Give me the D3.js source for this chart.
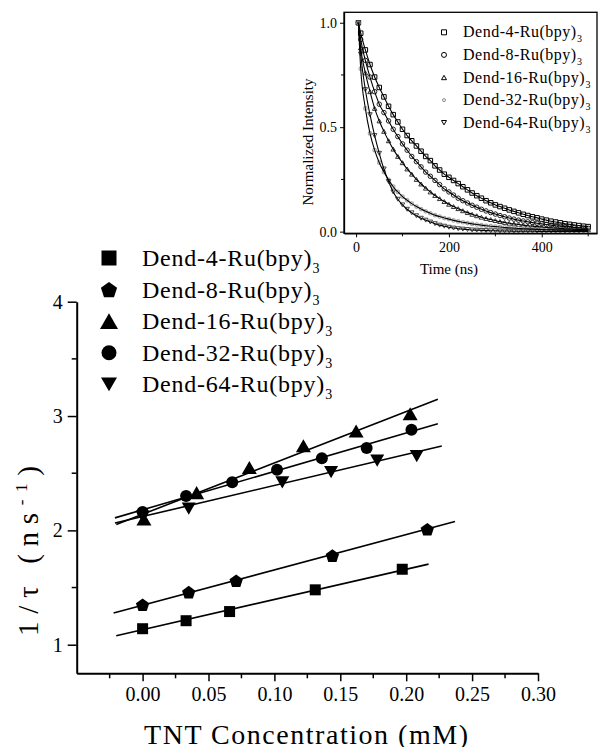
<!DOCTYPE html>
<html>
<head>
<meta charset="utf-8">
<script src="https://cdn.jsdelivr.net/npm/d3@7"></script>
<style>
  body { margin: 0; background: #fff; }
  svg { display: block; }
</style>
</head>
<body>
<svg id="chart" width="599" height="747" style="font-family: 'Liberation Serif', serif;"></svg>
<script>
// ---- main plot data: 1/tau vs TNT concentration ----
var seriesNames = ["Dend-4-Ru(bpy)", "Dend-8-Ru(bpy)", "Dend-16-Ru(bpy)", "Dend-32-Ru(bpy)", "Dend-64-Ru(bpy)"];
var seriesShapes = ["square", "pentagon", "triangle", "circle", "triangleDown"];

var tnt4  = [0.000, 0.033, 0.066, 0.131, 0.197];
var inv4  = [1.14, 1.21, 1.29, 1.48, 1.66];
var tnt8  = [0.000, 0.035, 0.071, 0.144, 0.216];
var inv8  = [1.35, 1.46, 1.56, 1.78, 2.01];
var tnt16 = [0.001, 0.041, 0.081, 0.122, 0.162, 0.203];
var inv16 = [2.10, 2.33, 2.55, 2.74, 2.87, 3.02];
var tnt32 = [0.000, 0.033, 0.068, 0.102, 0.136, 0.170, 0.204];
var inv32 = [2.16, 2.30, 2.42, 2.53, 2.63, 2.72, 2.88];
var tnt64 = [0.000, 0.035, 0.106, 0.143, 0.178, 0.208];
var inv64 = [2.12, 2.19, 2.42, 2.51, 2.61, 2.65];

// linear fits: intercept, slope, x-range of the drawn line
var fitIntercept = [1.132, 1.345, 2.141, 2.180, 2.121];
var fitSlope     = [2.64, 3.09, 4.49, 3.36, 2.72];
var fitFrom      = [-0.020, -0.022, -0.020, -0.021, -0.021];
var fitTo        = [0.217, 0.237, 0.224, 0.224, 0.227];

var xTicks = [0.00, 0.05, 0.10, 0.15, 0.20, 0.25, 0.30];
var xMinor = [-0.025, 0.025, 0.075, 0.125, 0.175, 0.225, 0.275];
var yTicks = [1, 2, 3, 4];
var yMinor = [1.5, 2.5, 3.5];

// ---- inset data: normalized intensity decays ----
var decayTime = [5, 10, 20, 30, 40, 50, 60, 70, 80, 90, 100, 110, 120, 130, 140, 150, 160, 170, 180, 190, 200,
  210, 220, 230, 240, 250, 260, 270, 280, 290, 300, 310, 320, 330, 340, 350, 360, 370, 380, 390, 400,
  410, 420, 430, 440, 450, 460, 470, 480, 490, 500];
var decay4 = [1.00, 0.95, 0.87, 0.80, 0.74, 0.69, 0.645, 0.60, 0.56, 0.525, 0.49, 0.46, 0.435, 0.41, 0.385, 0.36, 0.34, 0.315, 0.295, 0.275, 0.26,
  0.245, 0.23, 0.215, 0.20, 0.185, 0.172, 0.16, 0.148, 0.138, 0.128, 0.12, 0.112, 0.104, 0.097, 0.09, 0.083, 0.077, 0.071, 0.066, 0.06,
  0.055, 0.05, 0.046, 0.042, 0.038, 0.035, 0.032, 0.029, 0.026, 0.024];
var decay8 = [1.00, 0.92, 0.82, 0.74, 0.67, 0.61, 0.57, 0.53, 0.49, 0.455, 0.42, 0.39, 0.36, 0.335, 0.31, 0.285, 0.265, 0.245, 0.225, 0.205, 0.19,
  0.175, 0.16, 0.148, 0.137, 0.126, 0.117, 0.107, 0.099, 0.091, 0.084, 0.077, 0.071, 0.065, 0.06, 0.055, 0.051, 0.047, 0.043, 0.04, 0.037,
  0.034, 0.031, 0.028, 0.026, 0.024, 0.022, 0.02, 0.018, 0.017, 0.016];
var decay16 = [1.00, 0.88, 0.76, 0.67, 0.59, 0.53, 0.48, 0.435, 0.395, 0.36, 0.33, 0.30, 0.275, 0.25, 0.228, 0.208, 0.19, 0.173, 0.158, 0.144, 0.131,
  0.12, 0.11, 0.10, 0.091, 0.083, 0.076, 0.069, 0.063, 0.058, 0.053, 0.048, 0.044, 0.04, 0.037, 0.034, 0.031, 0.028, 0.026, 0.024, 0.022,
  0.02, 0.018, 0.017, 0.015, 0.014, 0.013, 0.012, 0.011, 0.010, 0.009];
var decay32 = [1.00, 0.78, 0.59, 0.47, 0.39, 0.33, 0.285, 0.248, 0.215, 0.19, 0.168, 0.15, 0.134, 0.12, 0.108, 0.097, 0.088, 0.079, 0.072, 0.065, 0.06,
  0.054, 0.049, 0.045, 0.041, 0.037, 0.034, 0.031, 0.028, 0.026, 0.024, 0.022, 0.02, 0.018, 0.017, 0.015, 0.014, 0.013, 0.012, 0.011, 0.010,
  0.009, 0.009, 0.008, 0.008, 0.007, 0.007, 0.006, 0.006, 0.005, 0.005];
var decay64 = [1.00, 0.85, 0.68, 0.56, 0.46, 0.375, 0.30, 0.24, 0.19, 0.155, 0.128, 0.107, 0.09, 0.076, 0.064, 0.055, 0.046, 0.038, 0.031, 0.026, 0.021,
  0.017, 0.014, 0.012, 0.010, 0.008, 0.007, 0.006, 0.005, 0.004, 0.004, 0.003, 0.003, 0.003, 0.002, 0.002, 0.002, 0.002, 0.002, 0.001, 0.001,
  0.001, 0.001, 0.001, 0.001, 0.001, 0.001, 0.001, 0.001, 0.001, 0.001];
var insetXTicks = [0, 200, 400];
var insetXMinor = [100, 300, 500];
var insetYTicks = [0.0, 0.5, 1.0];
var insetYMinor = [0.25, 0.75];

var svg = d3.select("#chart");
var serif = "'Liberation Serif', serif";

// symbol paths, w = marker width in px
function markerPath(type, w) {
  var p = d3.path(), r = w / 2, i, a;
  if (type === "square") {
    p.rect(-r, -r, w, w);
  } else if (type === "circle") {
    p.arc(0, 0, r, 0, 2 * Math.PI);
  } else if (type === "pentagon") {
    for (i = 0; i < 5; i++) {
      a = -Math.PI / 2 + i * 2 * Math.PI / 5;
      if (i === 0) p.moveTo(r * Math.cos(a), r * Math.sin(a) + r * 0.1);
      else p.lineTo(r * Math.cos(a), r * Math.sin(a) + r * 0.1);
    }
    p.closePath();
  } else if (type === "triangle") {
    var h = w * 0.87;
    p.moveTo(0, -h / 2); p.lineTo(r, h / 2); p.lineTo(-r, h / 2); p.closePath();
  } else if (type === "triangleDown") {
    var h2 = w * 0.87;
    p.moveTo(0, h2 / 2); p.lineTo(r, -h2 / 2); p.lineTo(-r, -h2 / 2); p.closePath();
  }
  return p.toString();
}

// the scanned figure has slightly looser letter spacing than the font
function spread(sel, factor) {
  sel.each(function() {
    var n = this.getComputedTextLength();
    d3.select(this).attr("textLength", n * factor).attr("lengthAdjust", "spacing");
  });
  return sel;
}

// ================= main plot =================
var x = d3.scaleLinear().domain([-0.05, 0.30]).range([76.7, 538]);
var y = d3.scaleLinear().domain([0.75, 4]).range([673.3, 301.7]);

var main = svg.append("g");

// axes
var xAxis = main.append("g").attr("transform", "translate(0," + y(0.75) + ")")
  .call(d3.axisBottom(x).tickValues(xTicks).tickSize(8).tickSizeOuter(0).tickPadding(6)
    .tickFormat(d3.format(".2f")));
xAxis.append("g").selectAll("line").data(xMinor).enter().append("line")
  .attr("x1", function(d) { return x(d); }).attr("x2", function(d) { return x(d); })
  .attr("y1", 0).attr("y2", 5).attr("stroke", "#000").attr("stroke-width", 1.5);

var yAxis = main.append("g").attr("transform", "translate(" + x(-0.05) + ",0)")
  .call(d3.axisLeft(y).tickValues(yTicks).tickSize(9).tickSizeOuter(0).tickPadding(5)
    .tickFormat(d3.format("d")));
yAxis.append("g").selectAll("line").data(yMinor).enter().append("line")
  .attr("y1", function(d) { return y(d); }).attr("y2", function(d) { return y(d); })
  .attr("x1", 0).attr("x2", -5).attr("stroke", "#000").attr("stroke-width", 1.5);

[xAxis, yAxis].forEach(function(ax) {
  ax.select(".domain").attr("stroke-width", 2);
  ax.selectAll(".tick line").attr("stroke-width", 1.5);
  ax.selectAll(".tick text").attr("font-size", 20).attr("fill", "#000");
});

main.append("text")
  .attr("x", 306).attr("y", 744)
  .attr("text-anchor", "middle").attr("font-size", 28)
  .attr("textLength", 324).attr("lengthAdjust", "spacing")
  .text("TNT Concentration (mM)");

var yl = main.append("text")
  .attr("transform", "translate(38,636) rotate(-90)")
  .attr("x", 0).attr("y", 0)
  .attr("font-size", 29)
  .attr("textLength", 170).attr("lengthAdjust", "spacing");
yl.append("tspan").text("1/\u03C4  (ns");
yl.append("tspan").attr("dy", -11).attr("font-size", 17).text("-1");
yl.append("tspan").attr("dy", 11).text(")");

// fit lines
var fitLine = d3.line().x(function(d) { return x(d[0]); }).y(function(d) { return y(d[1]); });
seriesNames.forEach(function(name, i) {
  var pts = [fitFrom[i], fitTo[i]].map(function(v) { return [v, fitIntercept[i] + fitSlope[i] * v]; });
  main.append("path").attr("d", fitLine(pts))
    .attr("fill", "none").attr("stroke", "#000").attr("stroke-width", 1.6);
});

// data markers
var mainX = [tnt4, tnt8, tnt16, tnt32, tnt64];
var mainY = [inv4, inv8, inv16, inv32, inv64];
var mainSize = [11, 14, 15, 12, 14];
seriesNames.forEach(function(name, i) {
  main.append("g").selectAll("path").data(mainX[i]).enter().append("path")
    .attr("transform", function(d, j) { return "translate(" + x(d) + "," + y(mainY[i][j]) + ")"; })
    .attr("d", markerPath(seriesShapes[i], mainSize[i]))
    .attr("fill", "#000");
});

// legend
var legendSize = [15, 17, 18, 15, 16];
var leg = main.append("g").attr("transform", "translate(109,258)");
seriesNames.forEach(function(name, i) {
  var row = leg.append("g").attr("transform", "translate(0," + (i * 31.6) + ")");
  row.append("path").attr("d", markerPath(seriesShapes[i], legendSize[i])).attr("fill", "#000");
  var t = row.append("text").attr("x", 33).attr("y", 8).attr("font-size", 24)
    .style("font-family", serif).text(name);
  spread(t, 1.06);
  row.append("text").attr("x", 33 + +t.attr("textLength") + 1).attr("y", 15)
    .attr("font-size", 14).text("3");
});

// ================= inset =================
var ix = d3.scaleLinear().domain([-26, 519]).range([344, 597]);
var iy = d3.scaleLinear().domain([-0.008, 1.05]).range([233.3, 12.3]);
var inset = svg.append("g");

inset.append("rect")
  .attr("x", ix(-26)).attr("y", iy(1.05))
  .attr("width", ix(519) - ix(-26)).attr("height", iy(-0.008) - iy(1.05))
  .attr("fill", "none").attr("stroke", "#000").attr("stroke-width", 1.3);

var ixAxis = inset.append("g").attr("transform", "translate(0," + iy(-0.008) + ")")
  .call(d3.axisBottom(ix).tickValues(insetXTicks).tickSize(4).tickSizeOuter(0).tickPadding(5));
ixAxis.append("g").selectAll("line").data(insetXMinor).enter().append("line")
  .attr("x1", function(d) { return ix(d); }).attr("x2", function(d) { return ix(d); })
  .attr("y1", 0).attr("y2", 3).attr("stroke", "#000");
var iyAxis = inset.append("g").attr("transform", "translate(" + ix(-26) + ",0)")
  .call(d3.axisLeft(iy).tickValues(insetYTicks).tickSize(4).tickSizeOuter(0).tickPadding(3)
    .tickFormat(d3.format(".1f")));
iyAxis.append("g").selectAll("line").data(insetYMinor).enter().append("line")
  .attr("y1", function(d) { return iy(d); }).attr("y2", function(d) { return iy(d); })
  .attr("x1", 0).attr("x2", -3).attr("stroke", "#000");
[ixAxis, iyAxis].forEach(function(ax) {
  ax.select(".domain").attr("stroke-width", 1.3);
  ax.selectAll(".tick text").attr("font-size", 14).attr("fill", "#000");
});

inset.append("text").attr("x", 449).attr("y", 274)
  .attr("text-anchor", "middle").attr("font-size", 15).text("Time (ns)");
inset.append("text").attr("transform", "translate(313,142) rotate(-90)")
  .attr("text-anchor", "middle").attr("font-size", 15).text("Normalized Intensity");

var decays = [decay4, decay8, decay16, decay32, decay64];
var decayColor = ["#000", "#222", "#333", "#aaa", "#444"];
inset.append("clipPath").attr("id", "insetClip").append("rect")
  .attr("x", ix(-26)).attr("y", iy(1.05)).attr("width", ix(519) - ix(-26)).attr("height", iy(-0.008) - iy(1.05));
var curves = inset.append("g").attr("clip-path", "url(#insetClip)");
decays.forEach(function(vals, i) {
  curves.append("g").selectAll("path").data(vals).enter().append("path")
    .attr("transform", function(d, j) { return "translate(" + ix(decayTime[j]) + "," + iy(d) + ")"; })
    .attr("d", markerPath(seriesShapes[i] === "pentagon" ? "circle" : seriesShapes[i], i === 3 ? 3.5 : 4.5))
    .attr("fill", "none").attr("stroke", decayColor[i]).attr("stroke-width", i === 3 ? 1.2 : 1);
});
var decayLine = d3.line().curve(d3.curveMonotoneX)
  .x(function(d, j) { return ix(decayTime[j]); }).y(function(d) { return iy(d); });
decays.forEach(function(vals) {
  curves.append("path").attr("d", decayLine(vals))
    .attr("fill", "none").attr("stroke", "#000").attr("stroke-width", 1.1);
});

// inset legend
var insetShapes = ["square", "circle", "triangle", "circle", "triangleDown"];
var ileg = inset.append("g").attr("transform", "translate(444,32.3)");
seriesNames.forEach(function(name, i) {
  var row = ileg.append("g").attr("transform", "translate(0," + (i * 22.6) + ")");
  row.append("path").attr("d", markerPath(insetShapes[i], i === 3 ? 3 : 5))
    .attr("fill", "none").attr("stroke", i === 3 ? "#888" : "#000").attr("stroke-width", 1);
  var t = row.append("text").attr("x", 19).attr("y", 5).attr("font-size", 16)
    .style("font-family", serif).text(name);
  spread(t, 1.06);
  row.append("text").attr("x", 19 + +t.attr("textLength") + 1).attr("y", 10)
    .attr("font-size", 10).text("3");
});

// every text in the serif face of the original figure
svg.selectAll("text").style("font-family", serif);
svg.selectAll("g").attr("font-family", null);
</script>
</body>
</html>
